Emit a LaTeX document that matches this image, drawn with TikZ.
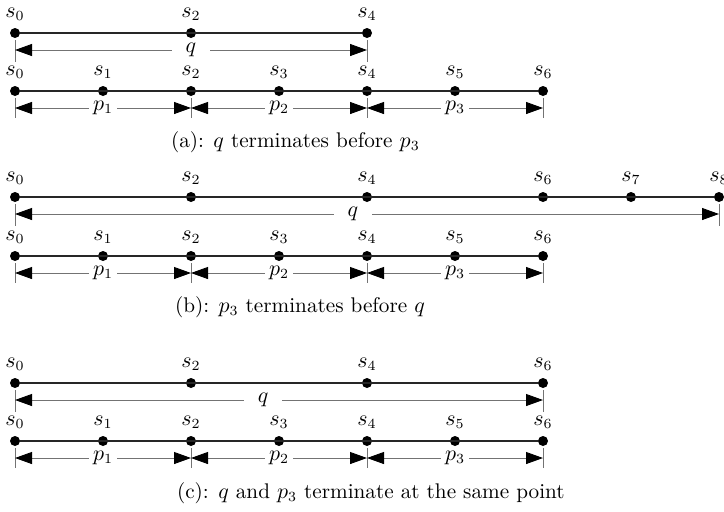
\documentclass[tikz,border=0pt]{standalone}
\usetikzlibrary{arrows.meta,positioning,calc}
\tikzset{
  dot/.style={circle, fill=black, inner sep=0pt, minimum size=5pt, label distance=0pt},
  segline/.style={line width=0.9pt, draw=black!85},
  dimarr/.style={{Triangle[length=8.5pt,width=6pt,color=black]}-{Triangle[length=8.5pt,width=6pt,color=black]},
    draw=black!55, line width=0.45pt},
  tickline/.style={draw=black!55, line width=0.45pt},
  dimlbl/.style={fill=white, inner ysep=1pt, inner xsep=2pt},
  capnode/.style={anchor=west}
}
\begin{document}
\begin{tikzpicture}[x=0.5pt,y=-0.5pt, font=\fontsize{10.6}{12.7}\selectfont]
  \useasboundingbox (0,0) rectangle (724,511);
  \foreach \r/\yq/\yp/\qset/\qe/\qpos in {a/33/91/{0,2,4}/4/0.5, b/197/256/{0,2,4,6,7,8}/8/0.48, c/383/441/{0,2,4,6}/6/0.47} {
    % upper row: q
    \foreach \i in \qset
      \node[dot, label=above:$s_{\i}$] (q\r\i) at ({15+88*\i},\yq) {};
    \draw[segline] (q\r0) -- (q\r\qe);
    \foreach \n in {q\r0,q\r\qe}
      \draw[tickline] ($(\n)+(0,7)$) -- ($(\n)+(0,29)$);
    \draw[dimarr] ($(q\r0)+(0,17)$) -- node[dimlbl, inner xsep=7pt, pos=\qpos] (lq\r) {$q$} ($(q\r\qe)+(0,17)$);
    % lower row: p_1, p_2, p_3
    \foreach \i in {0,...,6}
      \node[dot, label=above:$s_{\i}$] (p\r\i) at ({15+88*\i},\yp) {};
    \draw[segline] (p\r0) -- (p\r6);
    \foreach \i in {0,2,4,6}
      \draw[tickline] ($(p\r\i)+(0,7)$) -- ($(p\r\i)+(0,27)$);
    \foreach \k/\i/\j in {1/0/2, 2/2/4, 3/4/6}
      \draw[dimarr] ($(p\r\i)+(0,17)$) -- node[dimlbl] (lp\r\k) {$p_{\k}$} ($(p\r\j)+(0,17)$);
  }
  \node[capnode] (capa) at (164,142) {(a): $q$ terminates before $p_3$};
  \node[capnode] (capb) at (168,307) {(b): $p_3$ terminates before $q$};
  \node[capnode] (capc) at (170,493) {(c): $q$ and $p_3$ terminate at the same point};
\end{tikzpicture}
\end{document}
